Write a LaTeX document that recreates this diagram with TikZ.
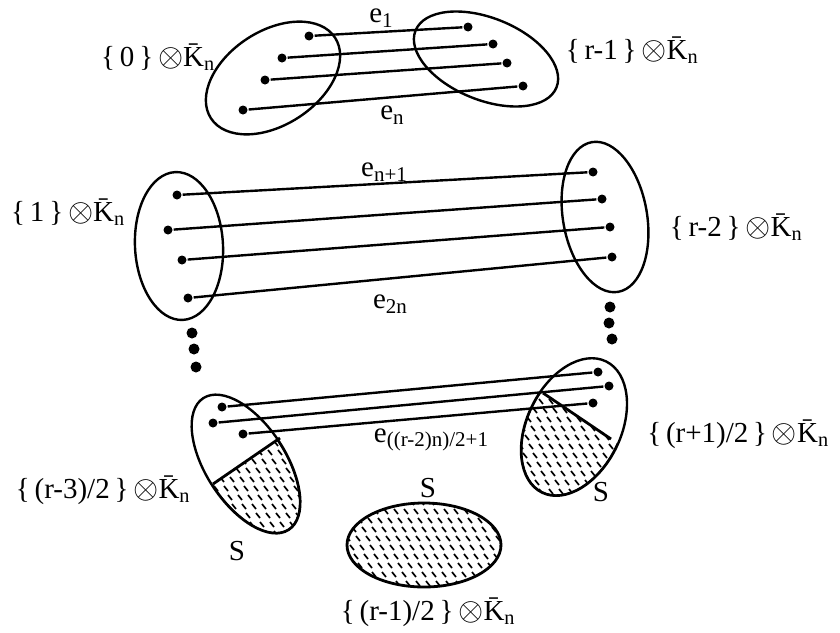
\documentclass[tikz,border=0pt]{standalone}
\usepackage{fontspec}
\setmainfont{Liberation Serif}
\usetikzlibrary{shapes.geometric}
\newcommand{\kset}[1]{\{\,#1\,\}\,\scalebox{1.3}{$\otimes$}\={K}\textsubscript{n}}
\newcommand{\elbl}[1]{e\raisebox{-0.35ex}{\fontsize{21}{22}\selectfont #1}}
\tikzset{
  every picture/.style={line width=2.4pt, x=1pt, y=-1pt},
  setell/.style={draw, ellipse, inner sep=0pt, line width=2.4pt},
  vtx/.style={circle, fill, inner sep=0pt, minimum size=9pt},
  bigdot/.style={circle, fill, inner sep=0pt, minimum size=11pt},
  edge/.style={line width=2.4pt},
  lbl/.style={font=\fontsize{29}{32}\selectfont, inner sep=0pt},
  hatch/.style={line width=1.7pt},
}

\begin{document}
\begin{tikzpicture}
  \useasboundingbox (0,0) rectangle (840,632);

  % shaded parts S
  \begin{scope}
    \clip[rotate around={-57:(246,464)}] (246,464) ellipse [x radius=78.5pt, y radius=40pt];
    \clip (146,530) -- (347,392) -- (347,620) -- (146,620) -- cycle;
    \foreach \i in {0,...,16} \foreach \j in {0,...,12}
      \draw[hatch] ({140+10*\i+4*\j},{432+9*\j}) -- ++(4,5);
    \draw[line width=3pt, rotate around={-57:(246,464)}] (246,464) ellipse [x radius=78.5pt, y radius=40pt];
  \end{scope}
  \begin{scope}
    \clip[rotate around={64:(574,427)}] (574,427) ellipse [x radius=73pt, y radius=47pt];
    \clip (475,347) -- (679,485) -- (679,600) -- (440,600) -- (440,347) -- cycle;
    \foreach \i in {0,...,17} \foreach \j in {0,...,12}
      \draw[hatch] ({465+10*\i+4*\j},{390+9*\j}) -- ++(4,5);
    \draw[line width=3pt, rotate around={64:(574,427)}] (574,427) ellipse [x radius=73pt, y radius=47pt];
  \end{scope}
  \begin{scope}
    \clip (424,545) ellipse [x radius=77pt, y radius=42pt];
    \foreach \i in {0,...,21} \foreach \j in {0,...,10}
      \draw[hatch] ({300+10*\i+4*\j},{500+9*\j}) -- ++(4,5);
  \end{scope}

  % the sets
  \node[setell, minimum width=148pt, minimum height=94pt, rotate=33] (s0) at (273,78) {};
  \node[setell, minimum width=152pt, minimum height=82pt, rotate=-22] (sr1) at (486,59) {};
  \node[setell, minimum width=88pt, minimum height=148pt, rotate=3] (s1) at (179,246) {};
  \node[setell, minimum width=84pt, minimum height=152pt, rotate=10] (sr2) at (605,217) {};
  \node[setell, minimum width=157pt, minimum height=80pt, rotate=-57] (sl) at (246,464) {};
  \node[setell, minimum width=146pt, minimum height=94pt, rotate=64] (sr) at (574,427) {};
  \node[setell, line width=2.8pt, minimum width=154pt, minimum height=84pt] (sm) at (424,545) {};

  % top edges e_1 .. e_n
  \node[vtx] (a1) at (309,36) {};  \node[vtx] (b1) at (468,27) {};
  \node[vtx] (a2) at (282,58) {};  \node[vtx] (b2) at (493,44) {};
  \node[vtx] (a3) at (265,80) {};  \node[vtx] (b3) at (507,63) {};
  \node[vtx] (a4) at (243,110) {}; \node[vtx] (b4) at (523,86) {};
  \draw[edge] (a1) -- (b1); \draw[edge] (a2) -- (b2);
  \draw[edge] (a3) -- (b3); \draw[edge] (a4) -- (b4);

  % middle edges e_{n+1} .. e_{2n}
  \node[vtx] (c1) at (177,195) {}; \node[vtx] (d1) at (593,172) {};
  \node[vtx] (c2) at (168,230) {}; \node[vtx] (d2) at (602,199) {};
  \node[vtx] (c3) at (182,260) {}; \node[vtx] (d3) at (610,227) {};
  \node[vtx] (c4) at (188,298) {}; \node[vtx] (d4) at (612,257) {};
  \draw[edge] (c1) -- (d1); \draw[edge] (c2) -- (d2);
  \draw[edge] (c3) -- (d3); \draw[edge] (c4) -- (d4);

  % lower edges
  \node[vtx] (f1) at (222,407) {}; \node[vtx] (g1) at (598,372) {};
  \node[vtx] (f2) at (213,423) {}; \node[vtx] (g2) at (609,386) {};
  \node[vtx] (f3) at (243,434) {}; \node[vtx] (g3) at (593,403) {};
  \draw[edge] (f1) -- (g1); \draw[edge] (f2) -- (g2); \draw[edge] (f3) -- (g3);

  % chords cutting off S
  \coordinate (ch1) at (213,484); \coordinate (ch2) at (280,438);
  \coordinate (ch3) at (543,393); \coordinate (ch4) at (611,439);
  \draw[line width=2.8pt] (ch1) -- (ch2);
  \draw[line width=2.8pt] (ch3) -- (ch4);

  % vertical dots
  \node[bigdot] (vl1) at (192,333) {}; \node[bigdot] (vl2) at (194,349) {}; \node[bigdot] (vl3) at (196,367) {};
  \node[bigdot] (vr1) at (610,307) {}; \node[bigdot] (vr2) at (609,323) {}; \node[bigdot] (vr3) at (612,339) {};

  % labels
  \node[lbl] (l0) at (158,57) {\kset{0}};
  \node[lbl] (lr1) at (632,50) {\kset{r-1}};
  \node[lbl] (l1) at (68,212) {\kset{1}};
  \node[lbl] (lr2) at (736,227) {\kset{r-2}};
  \node[lbl] (ll) at (103,490) {\kset{(r-3)/2}};
  \node[lbl] (lr) at (738,434) {\kset{(r+1)/2}};
  \node[lbl] (lm) at (428,612) {\kset{(r-1)/2}};
  \node[lbl] (e1) at (381,18) {\elbl{1}};
  \node[lbl] (en) at (392,115) {\elbl{n}};
  \node[lbl] (en1) at (384,172) {\elbl{n+1}};
  \node[lbl] (e2n) at (390,304) {\elbl{2n}};
  \node[lbl] (emid) at (431,440) {\elbl{((r-2)n)/2+1}};
  \node[lbl] (sa) at (237,551) {S};
  \node[lbl] (sb) at (428,488) {S};
  \node[lbl] (sc) at (601,492) {S};
\end{tikzpicture}
\end{document}
